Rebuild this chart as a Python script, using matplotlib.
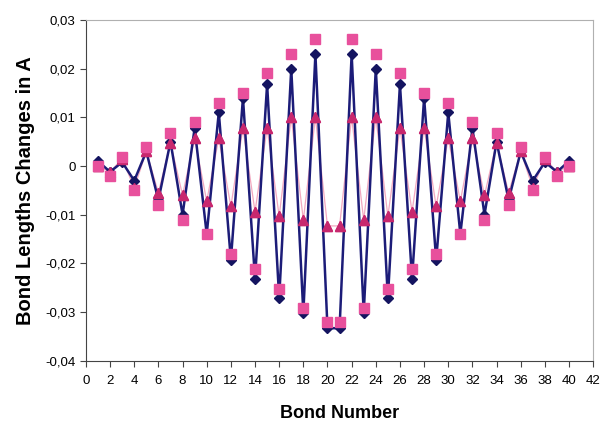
import numpy as np
import matplotlib.pyplot as plt
from matplotlib.ticker import FuncFormatter

plt.rcParams['font.family'] = ['Liberation Sans', 'DejaVu Sans']

# bond index 1..40 (symmetric about bond 20.5)
bond = np.arange(1, 41)
half_navy = [0.001, -0.0012, 0.0008, -0.003, 0.003, -0.007, 0.005, -0.010, 0.0078, -0.014,
             0.011, -0.0193, 0.014, -0.0232, 0.0168, -0.0271, 0.020, -0.0302, 0.023, -0.0333]
half_square = [0.0, -0.002, 0.0018, -0.005, 0.004, -0.008, 0.0068, -0.011, 0.009, -0.014,
               0.013, -0.018, 0.015, -0.0212, 0.019, -0.0253, 0.023, -0.0292, 0.026, -0.032]
half_tri = [0.0, -0.0012, 0.0015, -0.0045, 0.003, -0.0055, 0.0048, -0.006, 0.0057, -0.0072,
            0.0057, -0.0083, 0.0078, -0.0094, 0.0078, -0.0103, 0.010, -0.0111, 0.010, -0.0123]
navy = half_navy + half_navy[::-1]
square = half_square + half_square[::-1]
tri = half_tri + half_tri[::-1]

fig = plt.figure(figsize=(6.01, 4.24), dpi=100)
ax = fig.add_axes([0.143, 0.149, 0.844, 0.804])

ax.plot(bond, tri, color='#f2a8bf', lw=0.9, marker='^', ms=7,
        mfc='#c8286e', mec='#c8286e', zorder=2)
ax.plot(bond, navy, color='#1c1c78', lw=1.8, marker='D', ms=5.5,
        mfc='#141460', mec='#141460', zorder=3)
ax.plot(bond, square, ls='none', marker='s', ms=7,
        mfc='#e8509c', mec='#e8509c', zorder=4)
# triangles drawn again on top of the navy line where they sit between
ax.plot(bond, tri, ls='none', marker='^', ms=7,
        mfc='#c8286e', mec='#c8286e', zorder=3.5)

ax.set_xlim(0, 42)
ax.set_ylim(-0.04, 0.03)
ax.set_xticks(np.arange(0, 43, 2))
ax.set_yticks(np.arange(-0.04, 0.031, 0.01))
ax.yaxis.set_major_formatter(FuncFormatter(
    lambda v, p: '0' if abs(v) < 1e-9 else f'{v:.2f}'.replace('.', ',')))
ax.tick_params(axis='both', labelsize=9.5, length=4, width=0.8, color='#444444')
ax.tick_params(axis='x', pad=6)

for side in ('top', 'right'):
    ax.spines[side].set_color('#b0b0b0')
for side in ('left', 'bottom'):
    ax.spines[side].set_color('#444444')

ax.set_xlabel('Bond Number', fontsize=13, fontweight='bold', labelpad=13)
ax.set_ylabel('Bond Lengths Changes in A', fontsize=14.5, fontweight='bold', labelpad=7)

fig.savefig('out.png', dpi=100)
